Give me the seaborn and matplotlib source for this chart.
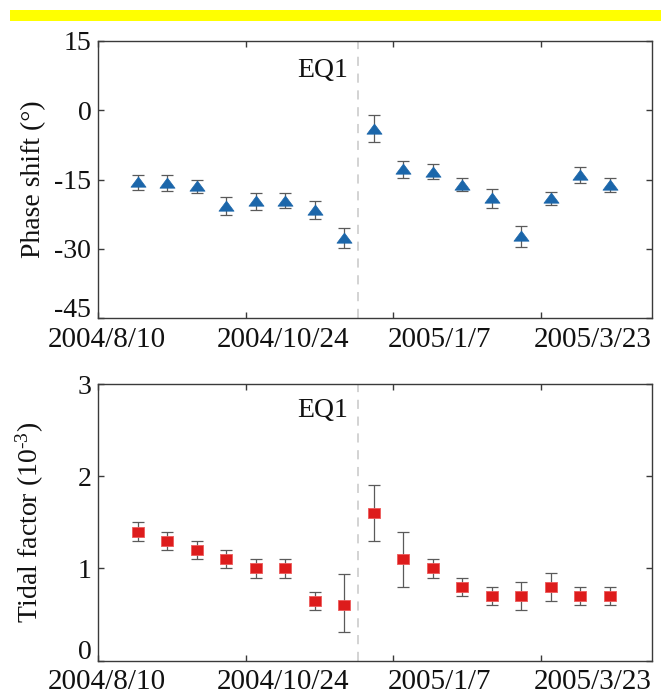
import numpy as np
import pandas as pd
import matplotlib
matplotlib.use("Agg")
import matplotlib.pyplot as plt
import matplotlib.transforms as mtransforms
from matplotlib.patches import Rectangle
from matplotlib.path import Path
import seaborn as sns

# ---------------- data ----------------
dates = ["2004-08-30", "2004-09-14", "2004-09-29", "2004-10-14", "2004-10-29",
         "2004-11-13", "2004-11-28", "2004-12-13", "2004-12-28", "2005-01-12",
         "2005-01-27", "2005-02-11", "2005-02-26", "2005-03-13", "2005-03-28",
         "2005-04-12", "2005-04-27"]
phase = [-15.6, -15.8, -16.5, -20.7, -19.7, -19.6, -21.6, -27.6, -4.0,
         -12.8, -13.3, -16.1, -19.1, -27.3, -19.1, -14.0, -16.2]
phase_err = [1.6, 1.7, 1.4, 1.95, 1.85, 1.65, 2.0, 2.1, 2.9,
             1.9, 1.6, 1.45, 2.1, 2.3, 1.45, 1.7, 1.5]
tidal = [1.40, 1.30, 1.20, 1.10, 1.00, 1.00, 0.65, 0.60, 1.60,
         1.10, 1.00, 0.80, 0.70, 0.70, 0.80, 0.70, 0.70]
tidal_err_lo = [0.10, 0.10, 0.10, 0.10, 0.10, 0.10, 0.10, 0.29, 0.30,
                0.30, 0.10, 0.10, 0.10, 0.15, 0.15, 0.10, 0.10]
tidal_err_hi = [0.10, 0.10, 0.10, 0.10, 0.10, 0.10, 0.10, 0.34, 0.30,
                0.30, 0.10, 0.10, 0.10, 0.15, 0.15, 0.10, 0.10]

tick_dates = ["2004-08-10", "2004-10-24", "2005-01-07", "2005-03-23"]
tick_labels = ["2004/8/10", "2004/10/24", "2005/1/7", "2005/3/23"]
eq_date = "2004-12-20"
eq_label = "EQ1"
x_start, x_end = "2004-08-10", "2005-05-18 14:00"

phase_ticks = [-45, -30, -15, 0, 15]
tidal_ticks = [0, 1, 2, 3]
phase_label = "Phase shift (°)"
tidal_label = r"Tidal factor (10$^{\text{-}3}$)"

# ---------------- style ----------------
sns.set_theme(style="ticks")
plt.rcParams["font.family"] = ["Liberation Serif", "DejaVu Serif"]
plt.rcParams["mathtext.fontset"] = "custom"
plt.rcParams["mathtext.rm"] = "Liberation Serif"
plt.rcParams["mathtext.it"] = "Liberation Serif:italic"
plt.rcParams["axes.unicode_minus"] = False

FS = 20
SPINE = "#3a3a3a"
BLUE = "#1b66aa"
RED = "#dd1c1c"
EBAR = "#5a5a5a"

df = pd.DataFrame({
    "date": pd.to_datetime(dates),
    "phase": phase,
    "phase_err": phase_err,
    "tidal": tidal,
    "tidal_lo": tidal_err_lo,
    "tidal_hi": tidal_err_hi,
})

fig = plt.figure(figsize=(6.61, 6.99), dpi=100)
fig.patch.set_facecolor("white")
fig.patches.append(Rectangle((10 / 661, 1 - 20.7 / 699), 1 - 10 / 661, 10.7 / 699,
                             transform=fig.transFigure, facecolor="#ffff00",
                             edgecolor="none", zorder=0))

ax1 = fig.add_axes([0.1487, 0.5446, 0.8381, 0.3972])
ax2 = fig.add_axes([0.1487, 0.0548, 0.8381, 0.3958])

tri = Path([(-1, -0.62), (1, -0.62), (0, 0.72), (-1, -0.62)],
           [Path.MOVETO, Path.LINETO, Path.LINETO, Path.CLOSEPOLY])
rect = Path([(-1, -0.72), (1, -0.72), (1, 0.72), (-1, 0.72), (-1, -0.72)],
            [Path.MOVETO, Path.LINETO, Path.LINETO, Path.LINETO, Path.CLOSEPOLY])

# top panel
ax1.errorbar(df["date"], df["phase"], yerr=df["phase_err"], fmt="none",
             ecolor=EBAR, elinewidth=0.9, capsize=4, capthick=0.9, zorder=2)
sns.scatterplot(data=df, x="date", y="phase", ax=ax1, marker=tri, s=118,
                color=BLUE, edgecolor=BLUE, linewidth=0.5, zorder=3, legend=False)

# bottom panel
ax2.errorbar(df["date"], df["tidal"], yerr=[df["tidal_lo"], df["tidal_hi"]], fmt="none",
             ecolor=EBAR, elinewidth=0.9, capsize=4, capthick=0.9, zorder=2)
sns.scatterplot(data=df, x="date", y="tidal", ax=ax2, marker=rect, s=84,
                color=RED, edgecolor="#ee5a5a", linewidth=0.6, zorder=3, legend=False)

for ax, ticks, lab, eqy in [(ax1, phase_ticks, phase_label, 0.893),
                            (ax2, tidal_ticks, tidal_label, 0.905)]:
    ax.set_xlim(pd.Timestamp(x_start), pd.Timestamp(x_end))
    ax.set_ylim(ticks[0], ticks[-1])
    ax.set_yticks(ticks)
    ax.set_yticklabels([str(t) for t in ticks])
    ax.set_xticks(pd.to_datetime(tick_dates))
    ax.set_xticklabels([])
    ax.axvline(pd.Timestamp(eq_date), color="#c8c8c8", lw=1.1, dashes=(6, 5), zorder=1)
    ax.annotate(eq_label, xy=(pd.Timestamp(eq_date), eqy),
                xycoords=("data", "axes fraction"), xytext=(-7, 0),
                textcoords="offset points", ha="right", va="center",
                fontsize=FS, color="#111111")
    for sp in ax.spines.values():
        sp.set_visible(True)
        sp.set_color(SPINE)
        sp.set_linewidth(1.0)
    ax.tick_params(axis="both", direction="in", length=4, width=1.0, color=SPINE,
                   top=True, right=True, labelsize=FS, labelcolor="#111111", pad=5)
    ax.set_ylabel(lab, fontsize=FS, color="#111111")
    ax.yaxis.set_label_coords(-0.095, 0.5)
    ax.set_xlabel("")
    ax.grid(False)
    ax.set_facecolor("white")
    # x tick labels placed under each tick (slightly shifted as in reference)
    for d, t, dx in zip(tick_dates, tick_labels, [6, 27, 33, 37]):
        ax.annotate(t, xy=(pd.Timestamp(d), 0), xycoords=("data", "axes fraction"),
                    xytext=(dx, -6), textcoords="offset points", ha="center", va="top",
                    fontsize=FS + 1, color="#111111", annotation_clip=False)
    # lowest y tick label sits above the tick
    labels = ax.get_yticklabels()
    off = mtransforms.ScaledTranslation(0, 8 / 72, fig.dpi_scale_trans)
    labels[0].set_transform(labels[0].get_transform() + off)

fig.savefig("out.png", dpi=100, facecolor="white")
